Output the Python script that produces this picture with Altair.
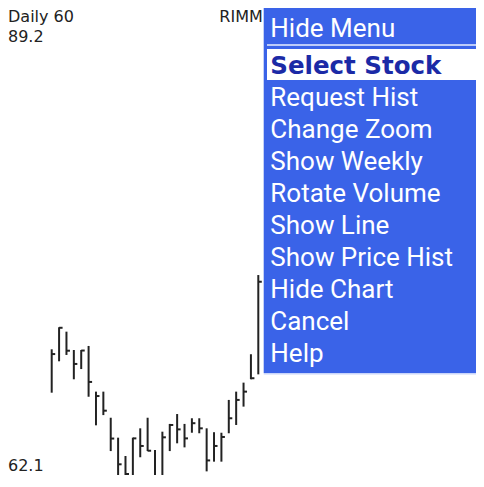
import altair as alt
import pandas as pd

# ---- data ----
days = list(range(1, 30))
highs = [69.68, 70.93, 70.68, 69.64, 69.64, 69.87, 67.28, 67.28, 65.80, 64.67,
         63.63, 64.67, 65.20, 65.80, 63.97, 65.01, 65.45, 66.01, 65.45, 65.77,
         65.77, 65.20, 64.98, 64.95, 66.81, 67.28, 67.79, 69.40, 73.89]
lows = [67.22, 69.00, 69.36, 67.98, 68.56, 66.99, 65.37, 65.95, 63.91, 62.50,
        62.12, 62.12, 63.56, 63.91, 62.17, 62.31, 63.91, 64.35, 64.12, 64.95,
        64.92, 62.76, 63.31, 63.31, 64.92, 65.39, 66.43, 67.98, 68.26]
closes = [69.41, 70.90, 69.60, 68.85, 69.61, 67.83, 67.03, 66.20, 64.62, 63.16,
          62.61, 64.63, 64.20, 63.93, 62.37, 64.69, 65.39, 65.14, 64.63, 65.49,
          65.20, 63.38, 64.20, 64.71, 65.77, 66.81, 67.28, 68.04, 73.51]

price_max = 89.2
price_min = 62.1
title_text = "Daily 60"
symbol = "RIMM"
menu_items = ["Hide Menu", "Select Stock", "Request Hist", "Change Zoom",
              "Show Weekly", "Rotate Volume", "Show Line", "Show Price Hist",
              "Hide Chart", "Cancel", "Help"]
selected_item = "Select Stock"

df = pd.DataFrame({"day": days, "high": highs, "low": lows, "close": closes})

W, H = 468, 467
O = 8  # page margin: chart coordinate = page coordinate - O
RIGHT = O + W


def p(v):
    return v - O


xs = alt.Scale(domain=[1, 29], range=[p(51.7), p(258.3)], zero=False, nice=False)
ys = alt.Scale(domain=[price_min, price_max], range=[p(483), p(5)], zero=False, nice=False)

base = alt.Chart(df)
bars = base.mark_rule(color="#222222", strokeWidth=2).encode(
    x=alt.X("day:Q", scale=xs, axis=None),
    y=alt.Y("low:Q", scale=ys, axis=None),
    y2="high:Q",
)
ticks = base.mark_rule(color="#222222", strokeWidth=2, x2Offset=3.5).encode(
    x=alt.X("day:Q", scale=xs, axis=None),
    x2="day:Q",
    y=alt.Y("close:Q", scale=ys, axis=None),
)

one = alt.Data(values=[{}])


def label(txt, x, y, size=16, color="#222222", font="DejaVu Sans", weight="normal"):
    return alt.Chart(one).mark_text(
        align="left", baseline="alphabetic", font=font, fontSize=size,
        color=color, fontWeight=weight,
    ).encode(text=alt.value(txt), x=alt.value(p(x)), y=alt.value(p(y)))


texts = [
    label(title_text, 8, 21.5),
    label(str(price_max), 8, 41.5),
    label(symbol, 219.3, 21.5),
    label(str(price_min), 8, 471),
]


def box(x1, x2, y1, y2, color):
    return alt.Chart(one).mark_rect(color=color).encode(
        x=alt.value(p(x1)), x2=alt.value(p(x2)), y=alt.value(p(y1)), y2=alt.value(p(y2))
    )


menu_bg = box(263.7, RIGHT, 7, 373, "#3a63e8")
menu_bottom = box(263.7, RIGHT, 373, 374.5, "#c9d5fa")
sep = box(267, RIGHT, 44.3, 45.8, "#e8eeff")
sel_box = box(267, RIGHT, 49, 80, "#ffffff")

menu_texts = []
for i, item in enumerate(menu_items):
    if i == 0:
        yb = 36.5
    elif i == 1:
        yb = 74
    else:
        yb = 106 + 32 * (i - 2)
    if item == selected_item:
        menu_texts.append(label(item, 270.3, yb, size=24.5, color="#1b2aa6",
                                font="DejaVu Sans", weight="bold"))
    else:
        menu_texts.append(label(item, 270.3, yb, size=26, color="#ffffff",
                                font="Roboto"))

chart = alt.layer(
    bars, ticks, *texts, menu_bg, menu_bottom, sep, sel_box, *menu_texts
).properties(
    width=W, height=H,
    autosize=alt.AutoSizeParams(type="none"),
    padding=0,
    background="#ffffff",
).configure_view(stroke=None)

chart.save("out.html", embed_options={"renderer": "svg", "actions": False})
